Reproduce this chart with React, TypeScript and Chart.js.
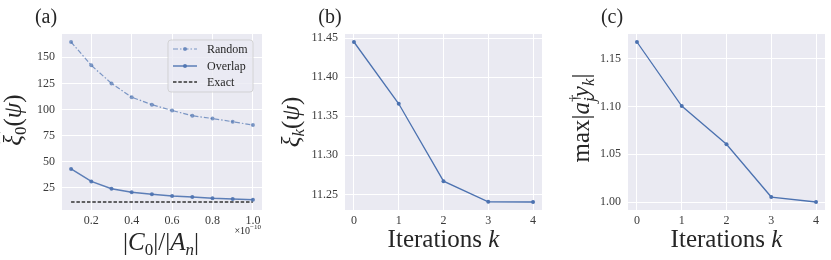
import React, { useEffect, useRef } from "react";
import { Chart, registerables } from "chart.js";

Chart.register(...registerables);

// ---------- data ----------
const ratioX = [0.1, 0.2, 0.3, 0.4, 0.5, 0.6, 0.7, 0.8, 0.9, 1.0];
const randomVals = [164.7, 142.3, 125.0, 111.8, 104.6, 99.0, 94.0, 91.3, 88.2, 85.0];
const overlapVals = [43.0, 31.0, 24.0, 20.5, 18.7, 17.1, 16.1, 14.8, 14.1, 13.5];
const exactVal = 11.24;

const iterations = [0, 1, 2, 3, 4];
const xiK = [11.445, 11.366, 11.267, 11.2405, 11.2403];
const maxOverlap = [1.1675, 1.1005, 1.0605, 1.0052, 1.0];

const aXTicks = [0.2, 0.4, 0.6, 0.8, 1.0];
const aYTicks = [25, 50, 75, 100, 125, 150];
const bYTicks = [11.25, 11.3, 11.35, 11.4, 11.45];
const cYTicks = [1.0, 1.05, 1.1, 1.15];
const kTicks = [0, 1, 2, 3, 4];

const legendLabels = ["Random", "Overlap", "Exact"];

// ---------- style ----------
const FONT = '"Liberation Serif", "Times New Roman", serif';
const TXT = "#262626";
const TICK = "#3a3a3a";
const BLUE = "#4C72B0";
const BG = "#EAEAF2";
const H = 260;
const TOP = 34;
const BOTTOM = 210;

type Seg = {
  t: string;
  f: string;
  dy?: number;
  dx?: number;
  hat?: boolean;
  noAdvance?: boolean;
};

function drawRich(
  ctx: CanvasRenderingContext2D,
  segs: Seg[],
  x: number,
  y: number,
  align: "center" | "left" | "right",
  rotate = false
) {
  ctx.save();
  ctx.translate(x, y);
  if (rotate) ctx.rotate(-Math.PI / 2);
  ctx.fillStyle = TXT;
  ctx.strokeStyle = TXT;
  ctx.textAlign = "left";
  ctx.textBaseline = "alphabetic";
  const widths: number[] = [];
  let total = 0;
  for (const s of segs) {
    ctx.font = s.f;
    const w = ctx.measureText(s.t).width;
    widths.push(w);
    if (!s.noAdvance) total += w;
  }
  let cx = align === "center" ? -total / 2 : align === "right" ? -total : 0;
  segs.forEach((s, i) => {
    ctx.font = s.f;
    ctx.fillText(s.t, cx + (s.dx || 0), s.dy || 0);
    if (s.hat) {
      const w = widths[i];
      const mid = cx + w / 2 + 2.5;
      ctx.beginPath();
      ctx.lineWidth = 1.1;
      ctx.moveTo(mid - 5.5, -21);
      ctx.lineTo(mid, -25);
      ctx.lineTo(mid + 5.5, -21);
      ctx.stroke();
    }
    if (!s.noAdvance) cx += widths[i];
  });
  ctx.restore();
}

const big = (t: string, it = false, extra: Partial<Seg> = {}): Seg => ({
  t,
  f: `${it ? "italic " : ""}25px ${FONT}`,
  ...extra,
});
const sub = (t: string, it = false, dy = 5, extra: Partial<Seg> = {}): Seg => ({
  t,
  f: `${it ? "italic " : ""}17px ${FONT}`,
  dy,
  ...extra,
});

const bgPlugin = {
  id: "bgfill",
  beforeDraw(chart: any) {
    const { ctx, chartArea: a } = chart;
    ctx.save();
    ctx.fillStyle = BG;
    ctx.fillRect(a.left, a.top, a.right - a.left, a.bottom - a.top);
    ctx.restore();
  },
};

function pad(lo: number, hi: number) {
  const m = (hi - lo) * 0.05;
  return [lo - m, hi + m];
}

function makeOptions(cfg: {
  width: number;
  left: number;
  right: number;
  xRange: number[];
  xTicks: number[];
  xFmt: (v: number) => string;
  yRange: number[];
  yTicks: number[];
  yFmt: (v: number) => string;
}) {
  const tickFont = { family: FONT, size: 12 };
  return {
    responsive: false,
    animation: false,
    devicePixelRatio: 1,
    layout: { padding: { left: 0, top: TOP, right: cfg.width - cfg.right, bottom: 0 } },
    plugins: { legend: { display: false }, title: { display: false }, tooltip: { enabled: false } },
    scales: {
      x: {
        type: "linear",
        position: "bottom",
        min: cfg.xRange[0],
        max: cfg.xRange[1],
        grid: { color: "#ffffff", lineWidth: 1, drawTicks: false },
        border: { display: false },
        ticks: {
          color: TICK,
          font: tickFont,
          padding: 4,
          maxRotation: 0,
          autoSkip: false,
          callback: (v: number) => cfg.xFmt(v),
        },
        afterBuildTicks: (s: any) => {
          s.ticks = cfg.xTicks.map((v) => ({ value: v }));
        },
        afterFit: (s: any) => {
          s.height = H - BOTTOM;
        },
      },
      y: {
        type: "linear",
        position: "left",
        min: cfg.yRange[0],
        max: cfg.yRange[1],
        grid: { color: "#ffffff", lineWidth: 1, drawTicks: false },
        border: { display: false },
        ticks: {
          color: TICK,
          font: tickFont,
          padding: 7,
          autoSkip: false,
          callback: (v: number) => cfg.yFmt(v),
        },
        afterBuildTicks: (s: any) => {
          s.ticks = cfg.yTicks.map((v) => ({ value: v }));
        },
        afterFit: (s: any) => {
          s.width = cfg.left;
        },
      },
    },
  } as any;
}

function overlay(draw: (ctx: CanvasRenderingContext2D, chart: any) => void) {
  return {
    id: "overlay",
    afterDraw(chart: any) {
      const ctx = chart.ctx as CanvasRenderingContext2D;
      ctx.save();
      draw(ctx, chart);
      ctx.restore();
    },
  };
}

function drawTitle(ctx: CanvasRenderingContext2D, t: string, x: number) {
  drawRich(ctx, [{ t, f: `20px ${FONT}` }], x, 23, "center");
}

function drawLegend(ctx: CanvasRenderingContext2D) {
  const x0 = 168, y0 = 40, w = 85, h = 52, r = 3;
  ctx.save();
  ctx.beginPath();
  ctx.moveTo(x0 + r, y0);
  ctx.arcTo(x0 + w, y0, x0 + w, y0 + h, r);
  ctx.arcTo(x0 + w, y0 + h, x0, y0 + h, r);
  ctx.arcTo(x0, y0 + h, x0, y0, r);
  ctx.arcTo(x0, y0, x0 + w, y0, r);
  ctx.closePath();
  ctx.fillStyle = "rgba(234,234,242,0.8)";
  ctx.fill();
  ctx.strokeStyle = "rgba(204,204,204,0.8)";
  ctx.lineWidth = 1;
  ctx.stroke();

  const rows = [49, 66, 82];
  const lx0 = 173, lx1 = 197;
  const styles = [
    { color: "rgba(76,114,176,0.7)", dash: [5, 2, 1.5, 2], lw: 1.2, marker: true },
    { color: "rgba(76,114,176,0.9)", dash: [], lw: 1.5, marker: true },
    { color: "#333333", dash: [3.5, 1.8], lw: 1.3, marker: false },
  ];
  styles.forEach((s, i) => {
    const y = rows[i];
    ctx.beginPath();
    ctx.setLineDash(s.dash);
    ctx.strokeStyle = s.color;
    ctx.lineWidth = s.lw;
    ctx.moveTo(lx0, y);
    ctx.lineTo(lx1, y);
    ctx.stroke();
    ctx.setLineDash([]);
    if (s.marker) {
      ctx.beginPath();
      ctx.fillStyle = s.color;
      ctx.arc((lx0 + lx1) / 2, y, 2, 0, Math.PI * 2);
      ctx.fill();
    }
    ctx.fillStyle = TXT;
    ctx.font = `12px ${FONT}`;
    ctx.textAlign = "left";
    ctx.textBaseline = "middle";
    ctx.fillText(legendLabels[i], 207, y + 1);
  });
  ctx.restore();
}

export default function App() {
  const refA = useRef<HTMLCanvasElement | null>(null);
  const refB = useRef<HTMLCanvasElement | null>(null);
  const refC = useRef<HTMLCanvasElement | null>(null);

  useEffect(() => {
    const charts: Chart[] = [];

    // ---- panel (a) ----
    const aY = pad(Math.min(exactVal, ...overlapVals), Math.max(...randomVals));
    const aX = pad(ratioX[0], ratioX[ratioX.length - 1]);
    charts.push(
      new Chart(refA.current!, {
        type: "line",
        data: {
          datasets: [
            {
              label: legendLabels[0],
              data: ratioX.map((x, i) => ({ x, y: randomVals[i] })),
              borderColor: "rgba(76,114,176,0.7)",
              backgroundColor: "rgba(76,114,176,0.7)",
              borderWidth: 1.2,
              borderDash: [5, 2, 1.5, 2],
              pointRadius: 2,
              pointBorderWidth: 0,
              tension: 0,
            },
            {
              label: legendLabels[1],
              data: ratioX.map((x, i) => ({ x, y: overlapVals[i] })),
              borderColor: "rgba(76,114,176,0.9)",
              backgroundColor: "rgba(76,114,176,0.9)",
              borderWidth: 1.5,
              pointRadius: 2,
              pointBorderWidth: 0,
              tension: 0,
            },
            {
              label: legendLabels[2],
              data: [
                { x: ratioX[0], y: exactVal },
                { x: ratioX[ratioX.length - 1], y: exactVal },
              ],
              borderColor: "#333333",
              borderWidth: 1.3,
              borderDash: [3.5, 1.8],
              pointRadius: 0,
              tension: 0,
            },
          ],
        },
        options: makeOptions({
          width: 280,
          left: 62,
          right: 262,
          xRange: aX,
          xTicks: aXTicks,
          xFmt: (v) => v.toFixed(1),
          yRange: aY,
          yTicks: aYTicks,
          yFmt: (v) => String(v),
        }),
        plugins: [
          bgPlugin,
          overlay((ctx) => {
            drawTitle(ctx, "(a)", 46);
            drawRich(
              ctx,
              [big("ξ", true, { hat: true }), sub("0"), big("("), big("ψ", true), big(")")],
              21,
              120,
              "center",
              true
            );
            drawRich(
              ctx,
              [
                big("|"),
                big("C", true),
                sub("0"),
                big("|"),
                big("/"),
                big("|"),
                big("A", true),
                sub("n", true),
                big("|"),
              ],
              161,
              250,
              "center"
            );
            drawRich(
              ctx,
              [
                { t: "×10", f: `10px ${FONT}` },
                { t: "−10", f: `7px ${FONT}`, dy: -5 },
              ],
              261,
              234,
              "right"
            );
            drawLegend(ctx);
          }),
        ],
      } as any)
    );

    // ---- panel (b) ----
    const kX = pad(iterations[0], iterations[iterations.length - 1]);
    charts.push(
      new Chart(refB.current!, {
        type: "line",
        data: {
          datasets: [
            {
              data: iterations.map((x, i) => ({ x, y: xiK[i] })),
              borderColor: BLUE,
              backgroundColor: BLUE,
              borderWidth: 1.3,
              pointRadius: 2,
              pointBorderWidth: 0,
              tension: 0,
            },
          ],
        },
        options: makeOptions({
          width: 280,
          left: 65,
          right: 262,
          xRange: kX,
          xTicks: kTicks,
          xFmt: (v) => String(v),
          yRange: pad(Math.min(...xiK), Math.max(...xiK)),
          yTicks: bYTicks,
          yFmt: (v) => v.toFixed(2),
        }),
        plugins: [
          bgPlugin,
          overlay((ctx) => {
            drawTitle(ctx, "(b)", 50);
            drawRich(
              ctx,
              [big("ξ", true, { hat: true }), sub("k", true), big("("), big("ψ", true), big(")")],
              19,
              122,
              "center",
              true
            );
            drawRich(ctx, [big("Iterations "), big("k", true)], 163.5, 247, "center");
          }),
        ],
      } as any)
    );

    // ---- panel (c) ----
    charts.push(
      new Chart(refC.current!, {
        type: "line",
        data: {
          datasets: [
            {
              data: iterations.map((x, i) => ({ x, y: maxOverlap[i] })),
              borderColor: BLUE,
              backgroundColor: BLUE,
              borderWidth: 1.3,
              pointRadius: 2,
              pointBorderWidth: 0,
              tension: 0,
            },
          ],
        },
        options: makeOptions({
          width: 271,
          left: 68,
          right: 265,
          xRange: kX,
          xTicks: kTicks,
          xFmt: (v) => String(v),
          yRange: pad(Math.min(...maxOverlap), Math.max(...maxOverlap)),
          yTicks: cYTicks,
          yFmt: (v) => v.toFixed(2),
        }),
        plugins: [
          bgPlugin,
          overlay((ctx) => {
            drawTitle(ctx, "(c)", 52);
            drawRich(
              ctx,
              [
                big("max"),
                big("|"),
                big("a", true),
                { t: "†", f: `15px ${FONT}`, dy: -10, noAdvance: true },
                sub("j", true, 6),
                big("y", true),
                sub("k", true),
                big("|"),
              ],
              29,
              118,
              "center",
              true
            );
            drawRich(ctx, [big("Iterations "), big("k", true)], 166.5, 247, "center");
          }),
        ],
      } as any)
    );

    return () => charts.forEach((c) => c.destroy());
  }, []);

  const cv = (left: number, width: number): React.CSSProperties => ({
    position: "absolute",
    left,
    top: 0,
    width,
    height: H,
  });

  return (
    <div style={{ position: "absolute", left: 0, top: 0, width: 831, height: H, background: "#ffffff" }}>
      <canvas ref={refA} width={280} height={H} style={cv(0, 280)} />
      <canvas ref={refB} width={280} height={H} style={cv(280, 280)} />
      <canvas ref={refC} width={271} height={H} style={cv(560, 271)} />
    </div>
  );
}
